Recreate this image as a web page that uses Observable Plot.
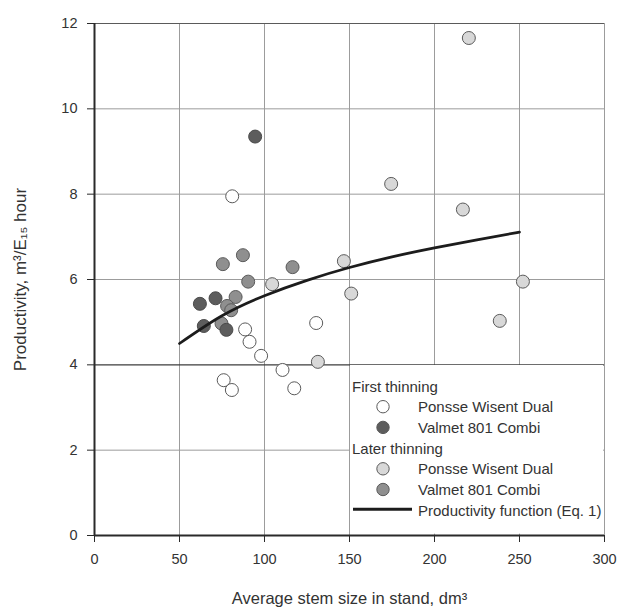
<!DOCTYPE html>
<html><head><meta charset="utf-8">
<script src="https://cdn.jsdelivr.net/npm/d3@7"></script>
<script src="https://cdn.jsdelivr.net/npm/@observablehq/plot@0.6"></script>
<style>
body{margin:0;background:#fff;}
#wrap{position:relative;width:617px;height:613px;overflow:hidden;}
#wrap svg{display:block;}
</style></head><body><div id="wrap"></div>
<script>
// ---- data ----
const xTicks = [0, 50, 100, 150, 200, 250, 300];
const yTicks = [0, 2, 4, 6, 8, 10, 12];
const xTitle = "Average stem size in stand, dm³";
const yTitle = "Productivity, m³/E₁₅ hour";

const firstPonsseX = [81, 88.6, 91.2, 98, 110.6, 117.5, 130.4, 76, 80.8];
const firstPonsseY = [7.95, 4.83, 4.54, 4.21, 3.88, 3.45, 4.98, 3.64, 3.41];
const firstValmetX = [94.5, 62, 71.2, 64.3, 77.6];
const firstValmetY = [9.35, 5.43, 5.56, 4.91, 4.82];
const laterPonsseX = [104.5, 146.7, 151, 131.4, 220.2, 174.5, 216.7, 252, 238.4];
const laterPonsseY = [5.89, 6.43, 5.67, 4.07, 11.66, 8.24, 7.64, 5.95, 5.03];
const laterValmetX = [75.5, 87.3, 116.5, 90.4, 83, 78, 80.4, 74.7];
const laterValmetY = [6.36, 6.57, 6.29, 5.95, 5.59, 5.38, 5.28, 4.97];
const curveX = [50, 75, 100, 125, 150, 175, 200, 225, 250];
const curveY = [4.50, 5.15, 5.62, 5.98, 6.28, 6.53, 6.74, 6.93, 7.11];

const legendGroups = ["First thinning", "Later thinning"];
const legendLabels = ["Ponsse Wisent Dual", "Valmet 801 Combi"];
const lineLabel = "Productivity function (Eq. 1)";

// ---- styles ----
const FONT = '"Liberation Sans", Arial, Helvetica, sans-serif';
const fills = {fp: "#ffffff", fv: "#5d5d5d", lp: "#d8d8d8", lv: "#8f8f8f"};
const ptStroke = "#5a5a5a";
const R = 6.5;

const zip = (xs, ys) => xs.map((x, i) => ({x, y: ys[i]}));
const fp = zip(firstPonsseX, firstPonsseY);
const fv = zip(firstValmetX, firstValmetY);
const lp = zip(laterPonsseX, laterPonsseY);
const lv = zip(laterValmetX, laterValmetY);
const curve = zip(curveX, curveY);

const plot = Plot.plot({
  width: 617, height: 613,
  marginLeft: 94, marginRight: 13, marginTop: 23, marginBottom: 78,
  x: {domain: [0, 300]},
  y: {domain: [0, 12]},
  style: {fontFamily: FONT, color: "#333", background: "transparent"},
  marks: [
    Plot.ruleX(xTicks.filter(d => d > 0), {stroke: "#9c9c9c", strokeWidth: 1}),
    Plot.ruleY(yTicks.filter(d => d > 0 && d !== 4 && d !== 12), {stroke: "#9c9c9c", strokeWidth: 1}),
    Plot.ruleY(yTicks.filter(d => d === 12), {stroke: "#5a5a5a", strokeWidth: 1}),
    Plot.ruleY(yTicks.filter(d => d === 4), {stroke: "#3c3c3c", strokeWidth: 1.2}),
    Plot.dot(lp, {x: "x", y: "y", r: R, fill: fills.lp, stroke: ptStroke, strokeWidth: 1}),
    Plot.dot(fp, {x: "x", y: "y", r: R, fill: fills.fp, stroke: ptStroke, strokeWidth: 1}),
    Plot.dot(lv, {x: "x", y: "y", r: R, fill: fills.lv, stroke: ptStroke, strokeWidth: 1}),
    Plot.dot(fv, {x: "x", y: "y", r: R, fill: fills.fv, stroke: "#4a4a4a", strokeWidth: 1}),
    Plot.line(curve, {x: "x", y: "y", curve: "natural", stroke: "#1c1c1c", strokeWidth: 2.7}),
    Plot.ruleX([0], {stroke: "#2a2a2a", strokeWidth: 2}),
    Plot.ruleY([0], {stroke: "#2a2a2a", strokeWidth: 2}),
    Plot.axisX(xTicks, {tickSize: 7, tickPadding: 11, fontSize: 14.5, label: null, stroke: "#2a2a2a", fill: "#333"}),
    Plot.axisY(yTicks, {tickSize: 7, tickPadding: 10, fontSize: 14.5, label: null, stroke: "#2a2a2a", fill: "#333"}),
    Plot.text([xTitle], {frameAnchor: "bottom", dy: 68, lineAnchor: "bottom", textAnchor: "middle", fontSize: 16.5, fill: "#333"}),
    Plot.text([yTitle], {frameAnchor: "left", dx: -74, rotate: -90, textAnchor: "middle", lineAnchor: "middle", fontSize: 17, fill: "#333"})
  ]
});
const wrap = document.getElementById("wrap");
wrap.appendChild(plot);

// ---- legend, placed in the lower-right grid cell using the chart's scales ----
const sx = plot.scale("x"), sy = plot.scale("y");
const L = sx.apply(150) + 1, T = sy.apply(4) + 1;
const W = sx.apply(300) - sx.apply(150) - 2, H = sy.apply(0) - sy.apply(4) - 2;
const leg = d3.select(wrap).append("svg")
  .attr("width", W).attr("height", H)
  .style("position", "absolute").style("left", L + "px").style("top", T + "px")
  .style("font-family", FONT).style("font-size", "15px");
leg.append("rect").attr("width", W).attr("height", H).attr("fill", "#fff");
const step = 20.7, base = 26.5, tx = 2, mx = 33, lx = 68;
const rows = [
  {t: legendGroups[0], x: tx},
  {t: legendLabels[0], x: lx, fill: fills.fp},
  {t: legendLabels[1], x: lx, fill: fills.fv},
  {t: legendGroups[1], x: tx},
  {t: legendLabels[0], x: lx, fill: fills.lp},
  {t: legendLabels[1], x: lx, fill: fills.lv},
  {t: lineLabel, x: lx, line: true}
];
rows.forEach((r, i) => {
  const yb = base + i * step;
  leg.append("text").attr("x", r.x).attr("y", yb).attr("fill", "#333").text(r.t);
  if (r.fill) leg.append("circle").attr("cx", mx).attr("cy", yb - 5.5).attr("r", 6.2)
    .attr("fill", r.fill).attr("stroke", ptStroke).attr("stroke-width", 1);
  if (r.line) leg.append("line").attr("x1", 3).attr("x2", 62).attr("y1", yb - 6.5).attr("y2", yb - 6.5)
    .attr("stroke", "#1c1c1c").attr("stroke-width", 3);
});
</script></body></html>
